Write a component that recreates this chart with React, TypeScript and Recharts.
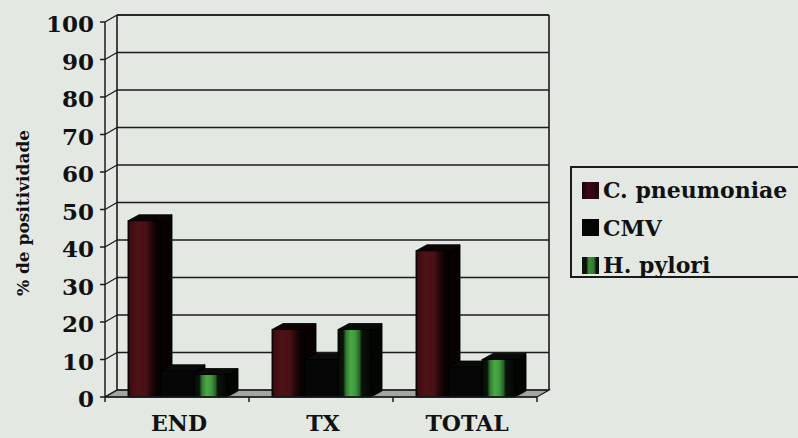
import React from 'react';
import { BarChart, Bar, XAxis, YAxis, CartesianGrid, Legend } from 'recharts';

// Positivity (%) per group
const categories = ['END', 'TX', 'TOTAL'];
const cPneumoniae = [47, 18, 39];
const cmv = [7, 10, 8];
const hPylori = [6, 18, 10];
const yTicks = [0, 10, 20, 30, 40, 50, 60, 70, 80, 90, 100];

const seriesNames = ['C. pneumoniae', 'CMV', 'H. pylori'];

const data = categories.map((category, i) => ({
  category,
  cpn: cPneumoniae[i],
  cmv: cmv[i],
  hpy: hPylori[i],
}));

// layout
const W = 798;
const H = 438;
const PLOT_LEFT = 105;
const PLOT_RIGHT = 537;
const PLOT_TOP = 22;
const X_AXIS_H = 41;
const PLOT_BOTTOM = H - X_AXIS_H;

// depth of the walls and of the boxes
const DX = 12;
const DY = -7;
const BDX = 11;
const BDY = -6;

const BG = '#e3e8e2';
const INK = '#1b1b1b';
const FONT = '"DejaVu Serif", serif';

type SeriesStyle = {
  key: string;
  name: string;
  face: string;
  side: string;
  top: string;
  swatch: string;
};

const series: SeriesStyle[] = [
  { key: 'cpn', name: seriesNames[0], face: 'url(#faceRed)', side: '#070102', top: '#0e0304', swatch: 'linear-gradient(90deg,#12030a 0%,#3a0a16 35%,#22050e 100%)' },
  { key: 'cmv', name: seriesNames[1], face: '#060606', side: '#000000', top: '#0a0a0a', swatch: '#050505' },
  { key: 'hpy', name: seriesNames[2], face: 'url(#faceGreen)', side: '#030503', top: '#080c08', swatch: 'linear-gradient(90deg,#0a140a 0%,#0a140a 25%,#3f8f3a 40%,#2f7a2c 70%,#0a140a 85%)' },
];

const makeBox = (s: SeriesStyle) => (props: any) => {
  const { x, y, width, height } = props;
  if (x == null || y == null || !width || height == null) return <g />;
  const w = width;
  const h = height;
  return (
    <g>
      <polygon
        points={`${x + w},${y} ${x + w + BDX},${y + BDY} ${x + w + BDX},${y + h + BDY} ${x + w},${y + h}`}
        fill={s.side}
        stroke="#000"
        strokeWidth={0.8}
      />
      <polygon
        points={`${x},${y} ${x + BDX},${y + BDY} ${x + w + BDX},${y + BDY} ${x + w},${y}`}
        fill={s.top}
        stroke="#000"
        strokeWidth={0.8}
      />
      <rect x={x} y={y} width={w} height={h} fill={s.face} stroke="#000" strokeWidth={1} />
    </g>
  );
};

// walls, floor and gridlines of the 3D frame
const renderGridLine = (p: any) => {
  const { x1, y1, x2, index } = p;
  const top = p.y ?? PLOT_TOP;
  const left = p.x ?? PLOT_LEFT;
  const width = p.width ?? PLOT_RIGHT - PLOT_LEFT;
  const height = p.height ?? PLOT_BOTTOM - PLOT_TOP;
  const bottom = top + height;
  const right = left + width;
  return (
    <g key={`grid-${index}`}>
      {index === 0 && (
        <g>
          <polygon
            points={`${left},${bottom} ${right},${bottom} ${right + DX},${bottom + DY} ${left + DX},${bottom + DY}`}
            fill="#a3a5a2"
            stroke={INK}
            strokeWidth={1.2}
          />
          <line x1={left + DX} y1={top + DY} x2={left + DX} y2={bottom + DY} stroke={INK} strokeWidth={1.6} />
          <line x1={right + DX} y1={top + DY} x2={right + DX} y2={bottom + DY} stroke={INK} strokeWidth={1.6} />
          <line x1={left + DX} y1={top + DY} x2={right + DX} y2={top + DY} stroke={INK} strokeWidth={1.6} />
        </g>
      )}
      <line x1={x1} y1={y1} x2={x1 + DX} y2={y1 + DY} stroke={INK} strokeWidth={1.3} />
      <line x1={x1 + DX} y1={y1 + DY} x2={x2 + DX} y2={y1 + DY} stroke={INK} strokeWidth={1.6} />
    </g>
  );
};

const YTick = (props: any) => {
  const { x, y, payload } = props;
  return (
    <text
      x={x - 4}
      y={y + 10}
      textAnchor="end"
      fontFamily={FONT}
      fontWeight="bold"
      fontSize={23}
      fill="#111"
    >
      {payload.value}
    </text>
  );
};

const halfBand = (PLOT_RIGHT - PLOT_LEFT) / categories.length / 2;

const XTick = (props: any) => {
  const { x, payload, index } = props;
  return (
    <g>
      <line x1={x - halfBand} y1={PLOT_BOTTOM} x2={x - halfBand} y2={PLOT_BOTTOM + 5} stroke={INK} strokeWidth={1.5} />
      {index === categories.length - 1 && (
        <line x1={x + halfBand} y1={PLOT_BOTTOM} x2={x + halfBand} y2={PLOT_BOTTOM + 5} stroke={INK} strokeWidth={1.5} />
      )}
      <text
        x={x + 2}
        y={PLOT_BOTTOM + 34}
        textAnchor="middle"
        fontFamily={FONT}
        fontWeight="bold"
        fontSize={22}
        fill="#111"
      >
        {payload.value}
      </text>
    </g>
  );
};

const YLabel = () => (
  <text
    x={29}
    y={213}
    transform="rotate(-90 29 213)"
    textAnchor="middle"
    fontFamily={FONT}
    fontWeight="bold"
    fontSize={17}
    fill="#111"
  >
    % de positividade
  </text>
);

const LegendBox = () => (
  <div
    style={{
      position: 'relative',
      width: 232,
      height: 112,
      border: `2px solid ${INK}`,
      boxSizing: 'border-box',
      background: BG,
      fontFamily: FONT,
      fontWeight: 'bold',
      fontSize: 22,
      color: '#111',
    }}
  >
    {series.map((s, i) => (
      <div
        key={s.key}
        style={{
          position: 'absolute',
          left: 10,
          top: 10 + i * 37.5,
          height: 24,
          lineHeight: '24px',
          whiteSpace: 'nowrap',
          display: 'flex',
          alignItems: 'center',
        }}
      >
        <span
          style={{
            display: 'inline-block',
            width: 17,
            height: 17,
            background: s.swatch,
            marginRight: 4,
          }}
        />
        <span>{s.name}</span>
      </div>
    ))}
  </div>
);

export default function App() {
  return (
    <div
      style={{
        position: 'fixed',
        left: 0,
        top: 0,
        width: W,
        height: H,
        overflow: 'hidden',
        background: BG,
      }}
    >
      <BarChart
        width={W}
        height={H}
        data={data}
        margin={{ top: PLOT_TOP, right: W - PLOT_RIGHT, bottom: 0, left: 0 }}
        barCategoryGap="16%"
        barGap={0}
      >
        <defs>
          <linearGradient id="faceRed" x1="0" y1="0" x2="1" y2="0">
            <stop offset="0" stopColor="#120304" />
            <stop offset="0.08" stopColor="#3e0d12" />
            <stop offset="0.3" stopColor="#4f1217" />
            <stop offset="0.55" stopColor="#461015" />
            <stop offset="0.72" stopColor="#22070a" />
            <stop offset="0.85" stopColor="#0a0203" />
            <stop offset="1" stopColor="#050101" />
          </linearGradient>
          <linearGradient id="faceGreen" x1="0" y1="0" x2="1" y2="0">
            <stop offset="0" stopColor="#050805" />
            <stop offset="0.16" stopColor="#0b150b" />
            <stop offset="0.24" stopColor="#2f7a2f" />
            <stop offset="0.38" stopColor="#4ea547" />
            <stop offset="0.52" stopColor="#3f9a3c" />
            <stop offset="0.64" stopColor="#2a6c2a" />
            <stop offset="0.72" stopColor="#0a120a" />
            <stop offset="1" stopColor="#050505" />
          </linearGradient>
        </defs>
        <CartesianGrid vertical={false} horizontal={renderGridLine} />
        <XAxis
          dataKey="category"
          height={X_AXIS_H}
          interval={0}
          tickLine={false}
          axisLine={{ stroke: INK, strokeWidth: 1.5 }}
          tick={XTick}
        />
        <YAxis
          type="number"
          domain={[0, 100]}
          ticks={yTicks}
          interval={0}
          width={PLOT_LEFT}
          tickSize={5}
          axisLine={{ stroke: INK, strokeWidth: 1.5 }}
          tickLine={{ stroke: INK, strokeWidth: 1.5 }}
          tick={YTick}
          label={YLabel}
        />
        <Legend
          layout="vertical"
          align="center"
          verticalAlign="middle"
          content={LegendBox}
          wrapperStyle={{ left: 570, top: 166, width: 232, height: 112 }}
        />
        {series.map((s) => (
          <Bar
            key={s.key}
            dataKey={s.key}
            name={s.name}
            fill={s.side}
            shape={makeBox(s)}
            isAnimationActive={false}
          />
        ))}
      </BarChart>
    </div>
  );
}
